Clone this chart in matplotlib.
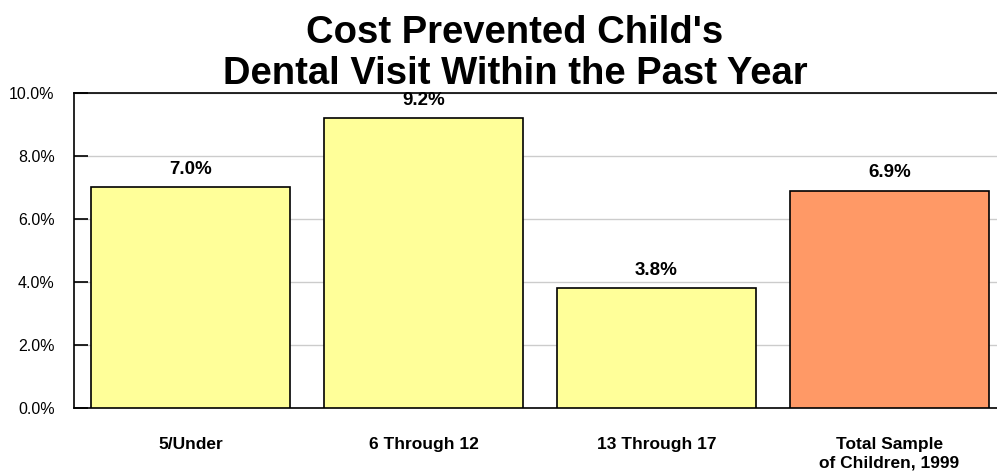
import matplotlib
matplotlib.use("Agg")
import matplotlib.pyplot as plt
from matplotlib.ticker import FuncFormatter

# data
categories = ['5/Under', '6 Through 12', '13 Through 17', 'Total Sample\nof Children, 1999']
values = [7.0, 9.2, 3.8, 6.9]
colors = ['#FFFF99', '#FFFF99', '#FFFF99', '#FF9966']
title_lines = ["Cost Prevented Child's", "Dental Visit Within the Past Year"]

plt.rcParams['font.family'] = ['Liberation Sans', 'DejaVu Sans']

fig = plt.figure(figsize=(9.97, 4.73), dpi=100)
ax = fig.add_axes([74 / 997, 65 / 473, 932 / 997, 315 / 473])

x = range(len(categories))
ax.bar(x, values, 0.85, color=colors, edgecolor='black', linewidth=1.2, zorder=3)

for xi, v in zip(x, values):
    ax.text(xi, v + 0.3, f'{v:.1f}%', ha='center', va='bottom',
            fontsize=13.5, fontweight='bold', zorder=4)

ax.set_xlim(-0.5, 3.5)
ax.set_ylim(0, 10)
ax.set_yticks([0, 2, 4, 6, 8, 10])
ax.yaxis.set_major_formatter(FuncFormatter(lambda v, p: f'{v:.1f}%'))
ax.yaxis.grid(True, color='#cccccc', linewidth=1, zorder=0)
ax.tick_params(axis='y', direction='in', length=10, width=1.2, labelsize=11.5, pad=14)
ax.set_xticks(list(x))
ax.set_xticklabels(categories, fontsize=12.5, fontweight='bold', linespacing=1.3)
ax.tick_params(axis='x', length=0, pad=21)
for s in ax.spines.values():
    s.set_linewidth(1.2)

# two title lines placed separately (baselines)
fig.text(515 / 997, 1 - 43 / 473, title_lines[0], ha='center', va='baseline',
         fontsize=27.5, fontweight='bold')
fig.text(515 / 997, 1 - 84 / 473, title_lines[1], ha='center', va='baseline',
         fontsize=27.5, fontweight='bold')

fig.savefig('out.png', dpi=100)
plt.close()
